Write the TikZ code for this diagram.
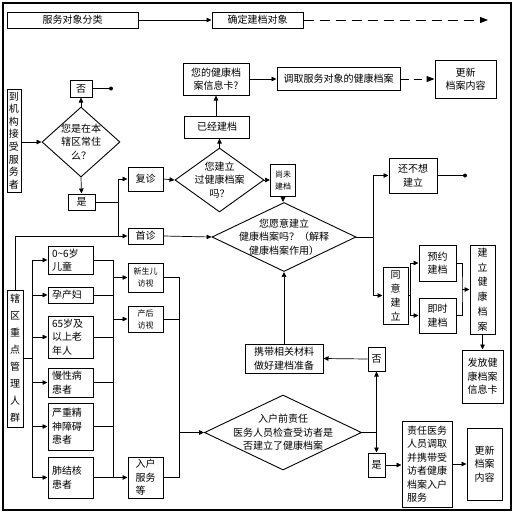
\documentclass[tikz,border=0pt]{standalone}
\usepackage{fontspec}
\newfontfamily\cjk{Noto Sans CJK SC}
\usetikzlibrary{arrows.meta,shapes.geometric}
\begin{document}
\begin{tikzpicture}[x=1pt,y=-1pt,
  box/.style={draw, line width=1pt, inner sep=1pt, align=center, font=\cjk\fontsize{10}{13.5}\selectfont},
  sbox/.style={box, font=\cjk\fontsize{8}{12}\selectfont},
  lbox/.style={box, align=left, inner xsep=4pt, text width=37pt},
  dia/.style={draw, diamond, line width=0.9pt, inner sep=0pt},
  dtext/.style={align=center, font=\cjk\fontsize{10}{13.5}\selectfont, inner sep=0pt},
  ln/.style={line width=0.7pt},
  arr/.style={ln, -{Triangle[length=5pt,width=4.5pt]}},
  dotc/.style={circle, fill, inner sep=0pt, minimum size=4pt},
]
\useasboundingbox (0,0) rectangle (517,515);
\draw[line width=1.1pt] (3,3) rectangle (511,510);

% top row
\node[box, minimum width=131pt, minimum height=16pt] (top1) at (72.5,20) {服务对象分类};
\node[box, minimum width=91pt, minimum height=16pt] (top2) at (257.5,20) {确定建档对象};
\coordinate (dend) at (488,20);
\draw[arr] (top1) -- (top2);
\draw[line width=1pt, dash pattern=on 10pt off 6pt, -{Triangle[length=8pt,width=6pt]}] (top2) -- (dend);

% upper left
\node[box, minimum width=14pt, minimum height=103pt, font=\cjk\fontsize{10}{12.6}\selectfont] (lb) at (14,140.5) {到\\机\\构\\接\\受\\服\\务\\者};
\node[dia, minimum width=78pt, minimum height=70pt] (d1) at (81,142) {};
\node[dtext] at (d1) {您是在本\\辖区常住\\么？};
\node[box, minimum width=22pt, minimum height=17pt] (no1) at (81,88.5) {否};
\node[dotc] (dot1) at (111,88.5) {};
\node[box, minimum width=27pt, minimum height=16pt] (yes1) at (81.5,202) {是};
\coordinate (j1) at (118,202);
\coordinate (jsz) at (118,236);

\node[box, minimum width=35pt, minimum height=24pt] (fz) at (145.5,179) {复诊};
\node[box, minimum width=35pt, minimum height=16pt] (sz) at (145.5,236) {首诊};

\draw[arr] (lb.east |- d1.west) -- (d1.west);
\draw[arr] (d1.north) -- (no1.south);
\draw[ln] (no1.east) -- (dot1);
\draw[arr] (d1.south) -- (yes1.north);
\draw[ln] (yes1.east) -- (j1);
\draw[arr] (j1) |- (fz.west);
\draw[arr] (j1) |- (sz.west);

% middle upper
\node[dia, minimum width=89pt, minimum height=64pt] (d2) at (219.5,180) {};
\node[dtext] at (d2) {您建立\\过健康档案\\吗？};
\node[box, minimum width=65pt, minimum height=22pt] (yj) at (217,127) {已经建档};
\node[box, minimum width=66pt, minimum height=32pt] (card) at (216,79) {您的健康档\\案信息卡?};
\node[box, minimum width=123pt, minimum height=23pt] (dq) at (338.5,79) {调取服务对象的健康档案};
\node[box, minimum width=61pt, minimum height=38pt] (up1) at (465.5,79) {更新\\档案内容};
\node[sbox, minimum width=25pt, minimum height=32pt] (wj) at (283,180) {尚未\\建档};

\draw[arr] (fz.east) -- (d2.west);
\draw[arr] (d2.north) -- (d2.north |- yj.south);
\draw[arr] (yj.north -| card.south) -- (card.south);
\draw[arr] (card.east) -- (dq.west);
\draw[line width=1pt, dash pattern=on 8pt off 5pt, -{Triangle[length=8pt,width=6pt]}] (dq.east) -- (up1.west);
\draw[arr] (d2.east) -- (wj.west);

% decision: willing
\node[dia, minimum width=144pt, minimum height=69pt] (d3) at (284,237) {};
\node[dtext] at (d3) {您愿意建立\\健康档案吗？（解释\\健康档案作用）};
\draw[arr] (wj.south) -- (wj.south |- d3.north);
\draw[arr] (sz.east) -- (d3.west);
\coordinate (j3) at (373,237);

\node[box, minimum width=48pt, minimum height=35pt] (bx) at (413,175.5) {还不想\\建立};
\node[dotc] (dot2) at (465,175.5) {};
\node[box, minimum width=25pt, minimum height=57pt, font=\cjk\fontsize{10}{14}\selectfont] (ty) at (395.5,295.5) {同\\意\\建\\立};
\node[box, minimum width=37pt, minimum height=36pt] (yy) at (437.5,263) {预约\\建档};
\node[box, minimum width=37pt, minimum height=35pt] (js) at (437.5,315.5) {即时\\建档};
\node[box, minimum width=25pt, minimum height=89pt, font=\cjk\fontsize{10}{14.8}\selectfont] (jl) at (482.5,289.5) {建\\立\\健\\康\\档\\案};
\node[box, minimum width=41pt, minimum height=53pt] (ff) at (482.5,376.5) {发放健\\康档案\\信息卡};
\coordinate (j4) at (410,295.5);
\coordinate (j5) at (462,289.5);

\draw[ln] (d3.east) -- (j3);
\draw[arr] (j3) |- (bx.west);
\draw[arr] (j3) |- (ty.west);
\draw[ln] (bx.east) -- (dot2);
\draw[ln] (ty.east) -- (j4);
\draw[arr] (j4) |- (yy.west);
\draw[arr] (j4) |- (js.west);
\draw[ln] (yy.east) -| (j5) |- (js.east);
\draw[arr] (j5) -- (jl.west);
\draw[arr] (jl.south) -- (ff.north);

% lower middle
\node[box, minimum width=78pt, minimum height=29pt] (xd) at (284,358.5) {携带相关材料\\做好建档准备};
\node[box, minimum width=17pt, minimum height=24pt] (no2) at (376.5,359) {否};
\node[box, minimum width=17pt, minimum height=24pt] (yes2) at (376.5,465) {是};
\node[dia, minimum width=157pt, minimum height=75pt] (d4) at (283,432.5) {};
\node[dtext] at (d4) {入户前责任\\医务人员检查受访者是\\否建立了健康档案};
\node[box, align=left, minimum width=50pt, minimum height=86pt] (zr) at (427,464) {责任医务\\人员调取\\并携带受\\访者健康\\档案入户\\服务};
\node[box, minimum width=35pt, minimum height=72pt] (up2) at (484.5,464) {更新\\档案\\内容};
\coordinate (j6) at (376.5,432.5);

\draw[arr] (xd.north) -- (d3.south);
\draw[arr] (no2.west) -- (xd.east);
\draw[ln] (d4.east) -- (j6);
\draw[arr] (j6) -- (no2.south);
\draw[arr] (j6) -- (yes2.north);
\draw[arr] (yes2.east) -- (yes2.east -| zr.west);
\draw[arr] (zr.east) -- (zr.east -| up2.west);

% lower left
\node[box, minimum width=16pt, minimum height=137pt, font=\cjk\fontsize{10}{17}\selectfont] (xq) at (15,358.5) {辖\\区\\重\\点\\管\\理\\人\\群};
\draw[ln] (xq.north) |- (jsz);

\node[lbox, minimum height=28pt] (c1) at (70.5,260) {0\textasciitilde 6岁\\儿童};
\node[lbox, minimum height=16pt] (c2) at (70.5,295) {孕产妇};
\node[lbox, minimum height=42pt] (c3) at (70.5,337) {65岁及\\以上老\\年人};
\node[lbox, minimum height=29pt] (c4) at (70.5,382.5) {慢性病\\患者};
\node[lbox, minimum height=47pt] (c5) at (70.5,426.5) {严重精\\神障碍\\患者};
\node[lbox, minimum height=41pt] (c6) at (70.5,477.5) {肺结核\\患者};

\node[sbox, minimum width=35pt, minimum height=29pt] (v1) at (145.5,277.5) {新生儿\\访视};
\node[sbox, minimum width=35pt, minimum height=26pt] (v2) at (145.5,319) {产后\\访视};
\node[box, align=left, minimum width=35pt, minimum height=41pt] (v3) at (145.5,477.5) {入户\\服务\\等};

\coordinate (j7) at (32,358.5);
\coordinate (b1) at (113,260);
\coordinate (b6) at (113,477.5);
\coordinate (b7) at (179,477.5);

\draw[ln] (xq.east |- j7) -- (j7);
\foreach \c in {c1,c2,c3,c4,c5,c6} { \draw[arr] (j7) |- (\c.west); }
\draw[ln] (c1.east) -| (b6);
\foreach \c in {c2,c3,c4,c5} { \draw[ln] (\c.east) -- (\c.east -| b1); }
\draw[arr] (v1.west -| b1) -- (v1.west);
\draw[arr] (v2.west -| b1) -- (v2.west);
\draw[arr, line width=1pt] (c6.east) -- (v3.west);
\draw[ln] (v1.east) -| (b7) -- (v3.east);
\draw[ln] (v2.east) -- (v2.east -| b7);
\draw[arr, line width=1pt] (d4.west -| b7) -- (d4.west);
\end{tikzpicture}
\end{document}
